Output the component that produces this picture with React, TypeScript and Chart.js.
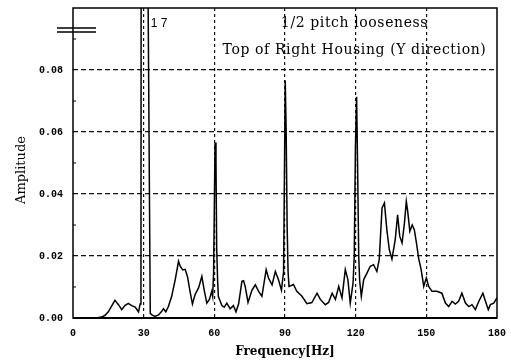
import React, { useEffect, useRef } from 'react';
import { Chart, registerables } from 'chart.js';
Chart.register(...registerables);

const freqHz = [
  0, 5, 10, 12, 13.5, 15, 16.5, 17.8, 19.3, 20.7, 22, 23.5, 24.9, 26.4, 27.8, 28.5, 28.85, 28.95, 30, 31.5,
  32.8, 33.5, 34.8, 36.3, 37.5, 38.4, 39.4, 40.5, 41.9, 43.4, 44.8, 45.5, 46.6, 47.6, 48.6, 49.7, 50.7, 51.8, 53.3, 54.7,
  55.7, 56.8, 57.9, 58.9, 59.3, 59.7, 60.3, 60.7, 61.0, 61.4, 61.7, 63.2, 64.2, 65.3, 66.7, 68.1, 69.2, 70.3, 71.7, 72.4,
  73.1, 74.3, 76, 77.4, 78.8, 80.2, 82, 83, 84.5, 85.9, 87.2, 88.5, 89.4, 89.8, 90.1, 90.5, 90.9, 91.3, 91.7, 92.7,
  93.6, 95, 97.2, 99.3, 101.4, 103.6, 105, 107.1, 108.5, 110, 111.4, 112.8, 114.2, 115.6, 116.7, 117.7, 118.9, 119.4, 119.9, 120.4,
  120.8, 121.3, 121.7, 122.4, 123.4, 124.8, 126.2, 127.6, 129, 130, 131.2, 132.2, 133.3, 134.3, 135.4, 136.8, 137.8, 138.7, 139.7, 140.7,
  141.5, 142.1, 143, 144, 144.9, 145.8, 146.8, 147.8, 148.9, 150, 151, 152.4, 154.5, 156.6, 158.1, 159.5, 160.9, 162.3, 163.7, 165.1,
  166.6, 168, 169.4, 170.8, 172.3, 174, 175.1, 176.3, 177.2, 178.6, 180,
];
const amplitude = [
  0, 0, 0, 0.0003, 0.0008, 0.002, 0.004, 0.0057, 0.0043, 0.0027, 0.004, 0.0047, 0.004, 0.0035, 0.002, 0.0045, 0.006, 0.145, 0.17, 0.145,
  0.0015, 0.001, 0.0005, 0.001, 0.002, 0.003, 0.002, 0.0037, 0.007, 0.0124, 0.0183, 0.0167, 0.0155, 0.0157, 0.0134, 0.0085, 0.0045, 0.0075, 0.0097, 0.0134,
  0.009, 0.0048, 0.006, 0.0086, 0.007, 0.015, 0.0566, 0.05, 0.0225, 0.012, 0.007, 0.004, 0.0035, 0.0048, 0.003, 0.004, 0.002, 0.0045, 0.0118, 0.012,
  0.0102, 0.005, 0.009, 0.0107, 0.0086, 0.007, 0.0156, 0.0129, 0.0107, 0.015, 0.0124, 0.009, 0.015, 0.05, 0.0766, 0.06, 0.03, 0.015, 0.0102, 0.0105,
  0.0108, 0.0086, 0.007, 0.0046, 0.005, 0.008, 0.006, 0.0043, 0.005, 0.008, 0.006, 0.0102, 0.0065, 0.0156, 0.0124, 0.0048, 0.0113, 0.02, 0.055, 0.0714,
  0.05, 0.02, 0.012, 0.007, 0.0124, 0.0145, 0.0167, 0.0172, 0.015, 0.0188, 0.0355, 0.0371, 0.028, 0.022, 0.019, 0.0253, 0.0333, 0.0264, 0.0242, 0.0306,
  0.0376, 0.0343, 0.028, 0.03, 0.0285, 0.0242, 0.019, 0.0156, 0.0102, 0.0129, 0.0102, 0.0086, 0.0086, 0.008, 0.0048, 0.0037, 0.0054, 0.0045, 0.0054, 0.008,
  0.0048, 0.0037, 0.0043, 0.0027, 0.0054, 0.008, 0.0054, 0.0027, 0.0043, 0.0048, 0.0065,
];
const xTickValues = [0, 30, 60, 90, 120, 150, 180];
const yTickLabels = ['0.00', '0.02', '0.04', '0.06', '0.08'];
const yMinorTicks = [0.01, 0.03, 0.05, 0.07, 0.09];
const titleLines = ['1/2 pitch looseness', 'Top of Right Housing (Y direction)'];
const peakLabel = '1 7';
const xTitle = 'Frequency[Hz]';
const yTitle = 'Amplitude';

export default function App() {
  const ref = useRef<HTMLCanvasElement>(null);
  useEffect(() => {
    const canvas = ref.current!;
    const decor = {
      id: 'decor',
      afterDraw(chart: any) {
        const c = chart.ctx;
        const a = chart.chartArea;
        const xs = chart.scales.x;
        const ys = chart.scales.y;
        c.save();
        c.strokeStyle = '#000';
        c.fillStyle = '#000';
        // frame
        c.lineWidth = 1.5;
        c.strokeRect(a.left, a.top, a.right - a.left, a.bottom - a.top);
        c.lineWidth = 2;
        c.beginPath();
        c.moveTo(a.left, a.bottom);
        c.lineTo(a.right, a.bottom);
        c.stroke();
        // minor ticks
        c.lineWidth = 1;
        yMinorTicks.forEach((v) => {
          const y = ys.getPixelForValue(v);
          c.beginPath();
          c.moveTo(a.left, y);
          c.lineTo(a.left + 3, y);
          c.stroke();
        });
        // axis break symbol
        c.lineWidth = 1.6;
        [20, 24].forEach((d) => {
          c.beginPath();
          c.moveTo(a.left - 16, a.top + d);
          c.lineTo(a.left + 23, a.top + d);
          c.stroke();
        });
        // titles
        c.font = '14px "DejaVu Serif"';
        c.textAlign = 'center';
        c.textBaseline = 'alphabetic';
        (c as any).letterSpacing = '0.6px';
        c.fillText(titleLines[0], xs.getPixelForValue(119.5), a.top + 19);
        c.fillText(titleLines[1], xs.getPixelForValue(119.5), a.top + 46);
        (c as any).letterSpacing = '0px';
        c.font = '12px "Liberation Sans"';
        c.textAlign = 'left';
        c.fillText(peakLabel, xs.getPixelForValue(33), a.top + 19);
        // axis titles
        c.font = 'bold 12px "DejaVu Serif"';
        c.textAlign = 'center';
        c.textBaseline = 'middle';
        c.fillText(xTitle, (a.left + a.right) / 2, a.bottom + 34);
        c.save();
        c.translate(22, (a.top + a.bottom) / 2 + 7);
        c.rotate(-Math.PI / 2);
        c.font = '13px "DejaVu Serif"';
        c.fillText(yTitle, 0, 0);
        c.restore();
        c.restore();
      },
    };
    const chart = new Chart(canvas, {
      type: 'line',
      data: {
        datasets: [
          {
            data: freqHz.map((f, i) => ({ x: f, y: amplitude[i] })),
            borderColor: '#000',
            borderWidth: 1.5,
            pointRadius: 0,
            tension: 0,
            fill: false,
          },
        ],
      },
      options: {
        animation: false,
        responsive: false,
        maintainAspectRatio: false,
        layout: { padding: { top: 8, right: 14, left: 0, bottom: 0 } },
        plugins: { legend: { display: false }, tooltip: { enabled: false } },
        scales: {
          x: {
            type: 'linear',
            min: 0,
            max: 180,
            afterBuildTicks: (s: any) => {
              s.ticks = xTickValues.map((v) => ({ value: v }));
            },
            afterFit: (s: any) => {
              s.height = 44;
              s.paddingLeft = 0;
              s.paddingRight = 0;
              s.paddingTop = 0;
              s.paddingBottom = 0;
            },
            grid: {
              drawTicks: false,
              lineWidth: 1.2,
              color: (ctx: any) => {
                const v = ctx.tick && ctx.tick.value;
                return v > 0 && v < 180 ? '#111' : 'rgba(0,0,0,0)';
              },
            },
            border: { display: false, dash: [3, 3] },
            ticks: {
              padding: 9,
              color: '#000',
              font: { family: '"Liberation Mono"', size: 10, weight: 'bold' },
              callback: (v: any) => String(v),
            },
          },
          y: {
            min: 0,
            max: 0.1,
            afterBuildTicks: (s: any) => {
              s.ticks = yTickLabels.map((t) => ({ value: parseFloat(t) }));
            },
            afterFit: (s: any) => {
              s.width = 73;
              s.paddingLeft = 0;
              s.paddingRight = 0;
              s.paddingTop = 0;
              s.paddingBottom = 0;
            },
            grid: {
              drawTicks: false,
              lineWidth: 1.2,
              color: (ctx: any) => {
                const v = ctx.tick && ctx.tick.value;
                return v > 0.001 ? '#111' : 'rgba(0,0,0,0)';
              },
            },
            border: { display: false, dash: [5, 3] },
            ticks: {
              padding: 10,
              color: '#000',
              font: { family: '"Liberation Mono"', size: 10, weight: 'bold' },
              callback: (v: any, i: number) => yTickLabels[i],
            },
          },
        },
      },
      plugins: [decor],
    } as any);
    return () => chart.destroy();
  }, []);
  return (
    <div style={{ position: 'absolute', left: 0, top: 0, width: 511, height: 362, background: '#fff' }}>
      <canvas ref={ref} width={511} height={362} style={{ display: 'block' }} />
    </div>
  );
}
